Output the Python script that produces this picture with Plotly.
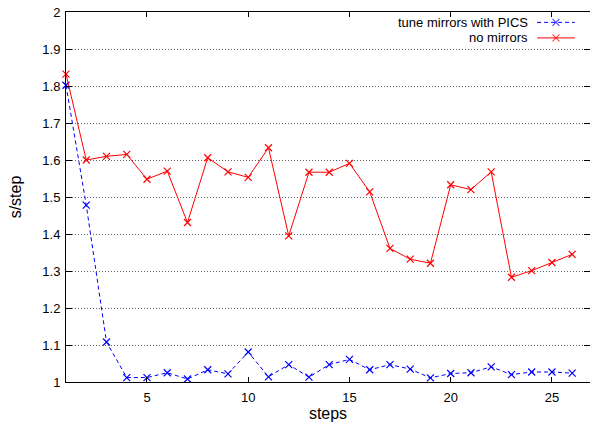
import plotly.graph_objects as go

steps = list(range(1, 27))
tune_pics = [1.802, 1.478, 1.108, 1.012, 1.012, 1.025, 1.008, 1.033, 1.022, 1.081,
             1.014, 1.047, 1.013, 1.047, 1.061, 1.033, 1.047, 1.035, 1.011, 1.023,
             1.025, 1.041, 1.020, 1.027, 1.027, 1.024]
no_mirrors = [1.832, 1.600, 1.610, 1.615, 1.548, 1.570, 1.431, 1.606, 1.568, 1.553,
              1.633, 1.395, 1.567, 1.567, 1.591, 1.514, 1.361, 1.332, 1.321, 1.533,
              1.520, 1.568, 1.283, 1.301, 1.323, 1.345]
series_names = ["tune mirrors with PICS", "no mirrors"]
x_ticks = [5, 10, 15, 20, 25]
y_ticks = [1, 1.1, 1.2, 1.3, 1.4, 1.5, 1.6, 1.7, 1.8, 1.9, 2]

BLUE = "#0000ff"
RED = "#ff0000"
FONT = "Liberation Sans, Arial, sans-serif"
FS = 13

fig = go.Figure()
fig.add_trace(go.Scatter(
    x=steps, y=tune_pics, mode="lines+markers", name=series_names[0],
    line=dict(color=BLUE, width=1, dash="4px,3px"),
    marker=dict(symbol="x-thin", size=7, line=dict(color=BLUE, width=1.2)),
    showlegend=False, cliponaxis=False))
fig.add_trace(go.Scatter(
    x=steps, y=no_mirrors, mode="lines+markers", name=series_names[1],
    line=dict(color=RED, width=1),
    marker=dict(symbol="x-thin", size=7, line=dict(color=RED, width=1.2)),
    showlegend=False, cliponaxis=False))

# legend samples (gnuplot style: text on left, sample on right)
leg_y = [0.972, 0.930]
for name, col, dash, ly in [(series_names[0], BLUE, "4px,3px", leg_y[0]),
                            (series_names[1], RED, "solid", leg_y[1])]:
    fig.add_trace(go.Scatter(
        x=[0.899, 0.935, 0.971], y=[ly, ly, ly], xaxis="x2", yaxis="y2",
        mode="lines+markers", showlegend=False, hoverinfo="skip",
        line=dict(color=col, width=1, dash=dash),
        marker=dict(symbol="x-thin", size=[0, 7, 0], line=dict(color=col, width=1.2))))
    fig.add_annotation(x=0.886, y=ly, xref="x2", yref="y2", text=name,
                       showarrow=False, xanchor="right", yanchor="middle",
                       font=dict(family=FONT, size=FS, color="black"))

fig.update_layout(
    width=590, height=422,
    margin=dict(l=66, r=0, t=12, b=40, autoexpand=False),
    plot_bgcolor="white", paper_bgcolor="white",
    font=dict(family=FONT, size=FS, color="black"),
    xaxis=dict(range=[1, 26.88], tickvals=x_ticks, ticks="inside", ticklen=5,
               tickcolor="black", showgrid=False, zeroline=False,
               showline=True, linecolor="black", linewidth=1, mirror="ticks",
               ticklabelstandoff=3, automargin=False,
               title=dict(text="steps", standoff=13), tickfont=dict(size=FS)),
    yaxis=dict(range=[1, 2], tickvals=y_ticks, ticks="inside", ticklen=6,
               tickcolor="black", showgrid=True, gridcolor="#666666",
               griddash="1px,2px", gridwidth=1, zeroline=False,
               showline=True, linecolor="black", linewidth=1, mirror="ticks",
               ticklabelstandoff=2, automargin=False,
               title=dict(text="s/step", standoff=16), tickfont=dict(size=FS)),
    xaxis2=dict(range=[0, 1], domain=[0, 1], overlaying="x", visible=False,
                anchor="y2"),
    yaxis2=dict(range=[0, 1], domain=[0, 1], overlaying="y", visible=False,
                anchor="x2"),
)

fig.write_html("out.html")
